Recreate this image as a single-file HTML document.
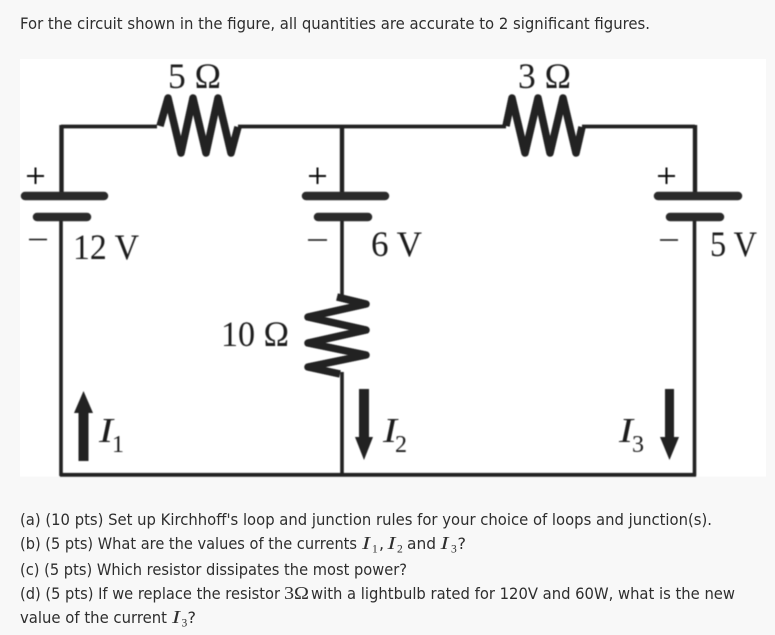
<!DOCTYPE html>
<html>
<head>
<meta charset="utf-8">
<style>
html,body{margin:0;padding:0;background:#f8f8f8;width:775px;height:635px;overflow:hidden}
svg{display:block}
.t{font-family:"DejaVu Sans","Liberation Sans",sans-serif;font-size:16px;fill:#2e2e2e}
.m{font-family:"Liberation Serif",serif;font-size:18px;fill:#2e2e2e;font-style:italic}
.n{font-family:"Liberation Serif",serif;font-size:11.5px;fill:#2e2e2e}
.r{font-family:"Liberation Serif",serif;font-size:18px;fill:#2e2e2e}
.c{font-family:"Liberation Serif","DejaVu Serif",serif;font-size:36px;fill:#1c1c1c}
.i{font-family:"Liberation Serif",serif;font-size:35px;font-style:italic;fill:#1c1c1c}
.s{font-family:"Liberation Serif",serif;font-size:24px;fill:#1c1c1c}
</style>
</head>
<body>
<svg width="775" height="635" viewBox="0 0 775 635" xmlns="http://www.w3.org/2000/svg">
<defs><filter id="b" x="-5%" y="-5%" width="110%" height="110%"><feGaussianBlur stdDeviation="0.45"/></filter></defs>
<rect width="775" height="635" fill="#f8f8f8"/>
<text class="t" x="20" y="29" textLength="630" lengthAdjust="spacingAndGlyphs">For the circuit shown in the figure, all quantities are accurate to 2 significant figures.</text>

<rect x="20" y="59" width="746" height="417.5" fill="#fff"/>
<g filter="url(#b)">
<g fill="none" stroke="#202020" stroke-linejoin="round">
<path d="M61 126.500H157M238 126.500H506M582 126.500H695" stroke-width="3.800"/>
<path d="M61.500 125V195M342 125V195M695 125V195" stroke-width="4.400"/>
<path d="M61 218V476M342 218V297M342 372V476M694.500 218V476" stroke-width="3.600"/>
<path d="M60 474.800H696" stroke-width="3.800"/>
<path d="M160 126L168 98L181 153L193 98L206 153L218 98L231 153L238 127" stroke-width="7.500"/>
<path d="M506 126L512 98L525 153L538 98L550 153L563 98L576 153L582 127" stroke-width="7.500"/>
<path d="M337 297L366 304L308 317L366 330L308 343L366 355L308 367L340 374" stroke-width="7.500"/>
</g>
<g stroke="#2a2a2a" stroke-width="8.500" stroke-linecap="round">
<path d="M25 196H104M306 196H385M658 196H738"/>
<path d="M37 217H87M318 217H368M670 217H720"/>
</g>
<g stroke="#111" fill="none">
<path d="M27 176H44M35.500 167.500V184M309 176H326M317.500 167.500V184M658 176H675M666.500 167.500V184" stroke-width="2"/>
<path d="M29 239.500H47M308 240H327M660 240H678" stroke-width="1.400"/>
</g>
<g fill="#222">
<path d="M78.500 461V413H74L83.500 391L93 413H88.500V461Z"/>
<path d="M359 389V437H355L364 460L373 437H369V389Z"/>
<path d="M665 389V437H660L669.500 460L679 437H674V389Z"/>
</g>
<text class="c" x="168" y="88" textLength="53" lengthAdjust="spacingAndGlyphs">5 Ω</text>
<text class="c" x="518" y="88" textLength="53" lengthAdjust="spacingAndGlyphs">3 Ω</text>
<text class="c" x="73" y="259" textLength="66" lengthAdjust="spacingAndGlyphs">12 V</text>
<text class="c" x="371" y="256" textLength="51" lengthAdjust="spacingAndGlyphs">6 V</text>
<text class="c" x="710" y="256" textLength="47" lengthAdjust="spacingAndGlyphs">5 V</text>
<text class="c" x="221" y="346" textLength="68" lengthAdjust="spacingAndGlyphs">10 Ω</text>
<text class="i" x="99" y="442" textLength="14" lengthAdjust="spacingAndGlyphs">I</text><text class="s" x="112" y="452">1</text>
<text class="i" x="383" y="442" textLength="14" lengthAdjust="spacingAndGlyphs">I</text><text class="s" x="395" y="452">2</text>
<text class="i" x="619" y="442" textLength="14" lengthAdjust="spacingAndGlyphs">I</text><text class="s" x="632" y="452">3</text>
</g>

<text class="t" x="20" y="525" textLength="692" lengthAdjust="spacingAndGlyphs">(a) (10 pts) Set up Kirchhoff's loop and junction rules for your choice of loops and junction(s).</text>

<text class="t" x="20" y="549" textLength="337" lengthAdjust="spacingAndGlyphs">(b) (5 pts) What are the values of the currents</text>
<text class="m" x="362" y="549" textLength="8" lengthAdjust="spacingAndGlyphs">I</text><text class="n" x="372" y="552.500">1</text><text class="t" x="379" y="549">,</text>
<text class="m" x="387.500" y="549" textLength="8" lengthAdjust="spacingAndGlyphs">I</text><text class="n" x="397" y="552.500">2</text>
<text class="t" x="407" y="549" textLength="29" lengthAdjust="spacingAndGlyphs">and</text>
<text class="m" x="440.500" y="549" textLength="8" lengthAdjust="spacingAndGlyphs">I</text><text class="n" x="451" y="552.500">3</text><text class="t" x="457.500" y="549">?</text>

<text class="t" x="20" y="575" textLength="387" lengthAdjust="spacingAndGlyphs">(c) (5 pts) Which resistor dissipates the most power?</text>

<text class="t" x="20" y="599" textLength="260" lengthAdjust="spacingAndGlyphs">(d) (5 pts) If we replace the resistor</text>
<text class="r" x="284" y="599" textLength="25" lengthAdjust="spacingAndGlyphs">3Ω</text>
<text class="t" x="311" y="599" textLength="424" lengthAdjust="spacingAndGlyphs">with a lightbulb rated for 120V and 60W, what is the new</text>

<text class="t" x="20" y="623" textLength="147" lengthAdjust="spacingAndGlyphs">value of the current</text>
<text class="m" x="172" y="623" textLength="8" lengthAdjust="spacingAndGlyphs">I</text><text class="n" x="181.500" y="626.500">3</text><text class="t" x="187.500" y="623">?</text>
</svg>
</body>
</html>
